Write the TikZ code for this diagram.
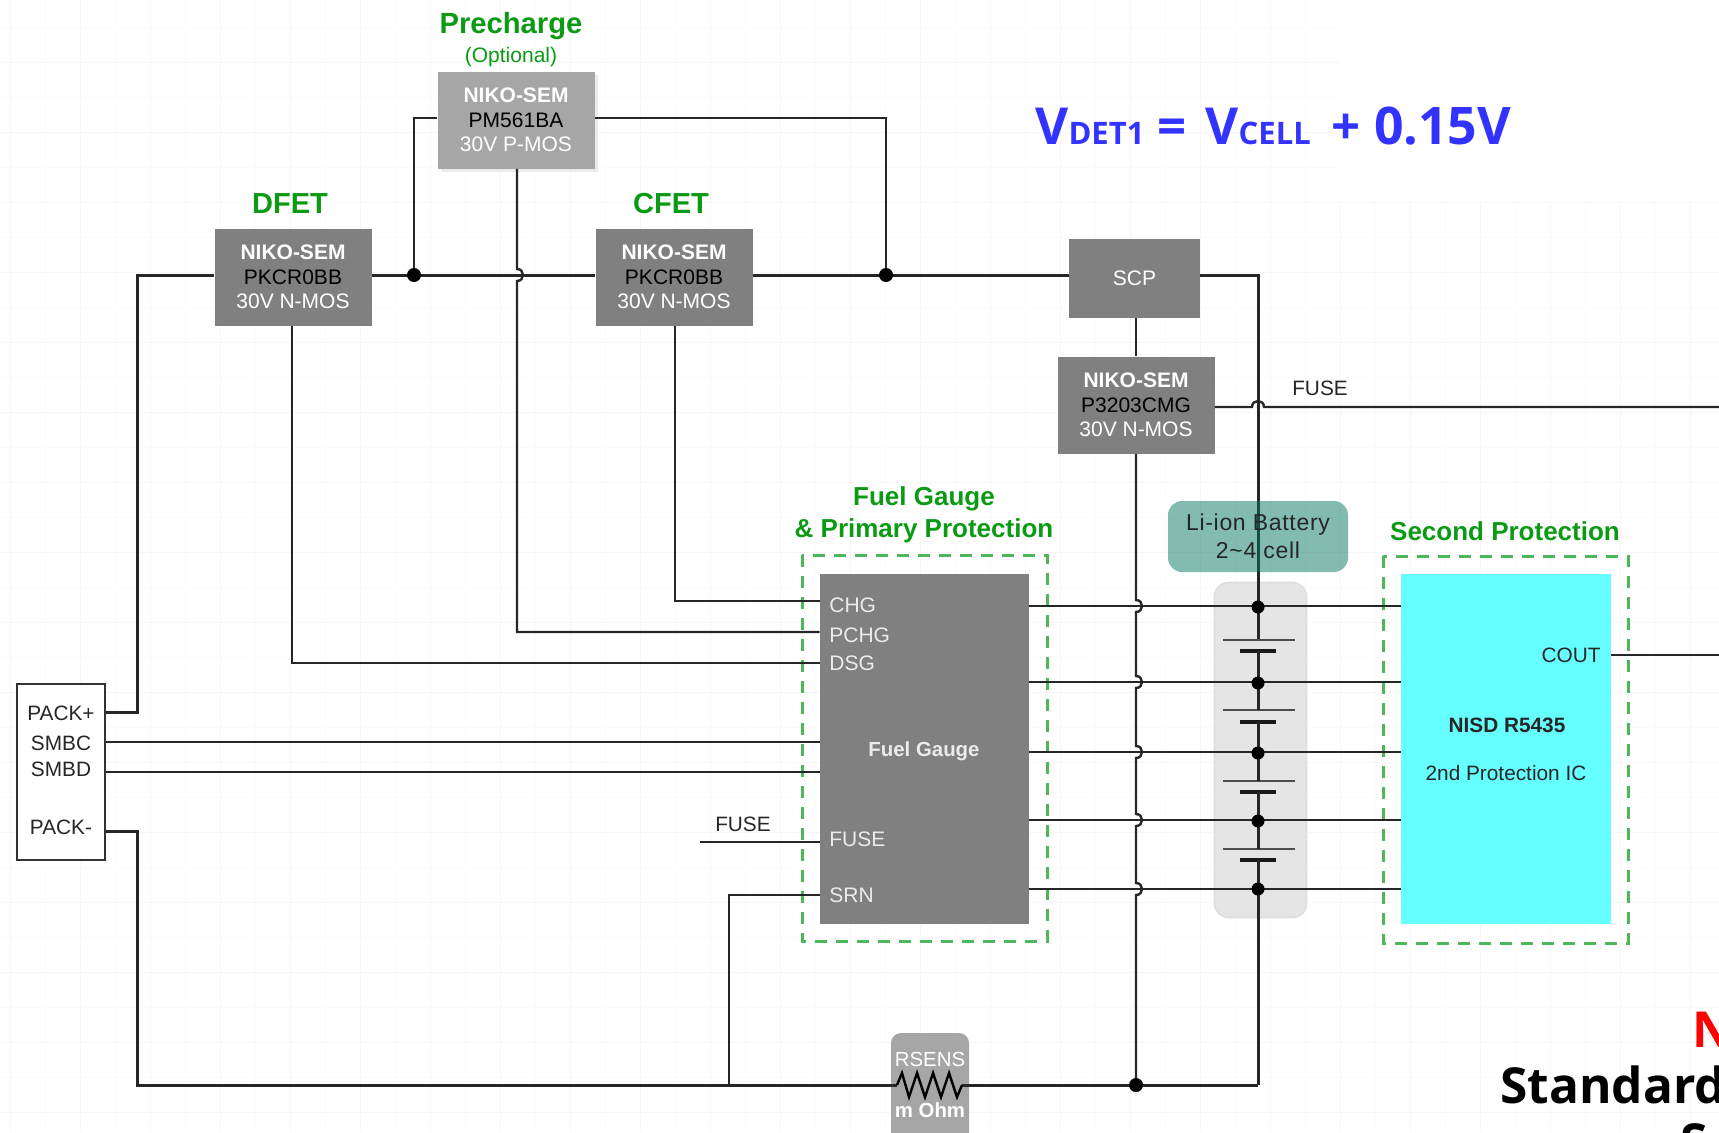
\documentclass[tikz,border=0pt]{standalone}
\usepackage{fontspec}
\setmainfont{Liberation Sans}
\newfontfamily\mathlike{Open Sans}
\usepackage{tikz}
\definecolor{fetgray}{HTML}{808080}
\definecolor{pregray}{HTML}{A6A6A6}
\definecolor{labelgreen}{HTML}{0A9A14}
\definecolor{dashgreen}{HTML}{4DB85A}
\definecolor{gridmajor}{HTML}{F7F7F7}
\definecolor{gridminor}{HTML}{FBFBFB}
\definecolor{icecyan}{HTML}{66FFFF}
\definecolor{cellteal}{HTML}{057961}
\definecolor{formulablue}{HTML}{3333FF}
\tikzset{
  wire/.style={line width=1.2pt, black!85},
  heavywire/.style={line width=1.5pt, black!85},
  fet/.style={rectangle, fill=fetgray, minimum width=78.5pt, minimum height=48.5pt, inner sep=0pt, align=center, font=\fontsize{10.5}{12}\selectfont, text=white},
  title/.style={text=labelgreen, font=\fontsize{13}{16}\bfseries\selectfont, align=center, inner sep=0pt},
  pin/.style={text=white!92!black, anchor=west, inner sep=0pt, font=\fontsize{10.5}{12}\selectfont},
  tag/.style={text=black!85, inner sep=0pt, font=\fontsize{10.4}{12}\selectfont},
  dot/.style={circle, fill=black, minimum size=7pt, inner sep=0pt},
  guard/.style={draw=dashgreen, line width=1.5pt, dash pattern=on 6pt off 4.5pt},
  cellplate/.style={line width=1.1pt, black!70},
  cellshort/.style={line width=2pt, black!90},
  note/.style={anchor=base west, inner sep=0pt, font=\mathlike\bfseries\fontsize{24.8}{30}\selectfont},
}
\begin{document}
\begin{tikzpicture}[x=.5pt, y=-.5pt]
\useasboundingbox (0,0) rectangle (1719,1132);
\clip (0,0) rectangle (1719,1132);
% grid
\foreach \x in {45,115,...,1719} \draw[gridminor, line width=.4pt] (\x,0) -- (\x,1132);
\foreach \y in {27,97,...,1132} \draw[gridminor, line width=.4pt] (0,\y) -- (1719,\y);
\foreach \x in {10,80,...,1719} \draw[gridmajor, line width=.5pt] (\x,0) -- (\x,1132);
\foreach \y in {62,132,...,1132} \draw[gridmajor, line width=.5pt] (0,\y) -- (1719,\y);
\fill[white] (1340,0) rectangle (1719,202);

% battery pack background
\node[rectangle, rounded corners=7pt, fill=black!10, draw=black!13, line width=.8pt, minimum width=46pt, minimum height=167.5pt, inner sep=0pt] (pack) at (1260.5,750) {};

% blocks
\node[fet] (dfet) at (293,277) {\textbf{NIKO-SEM}\\[.25pt]{\color{black}PKCR0BB}\\[.25pt]30V N-MOS};
\node[fet] (cfet) at (674,277) {\textbf{NIKO-SEM}\\[.25pt]{\color{black}PKCR0BB}\\[.25pt]30V N-MOS};
\node[fet, fill=black!8] at (519,123) {};
\node[fet, fill=pregray] (pfet) at (516,120) {\textbf{NIKO-SEM}\\[.25pt]{\color{black}PM561BA}\\[.25pt]30V P-MOS};
\node[fet, minimum width=65.5pt, minimum height=39.5pt] (scp) at (1134.5,278) {SCP};
\node[fet] (fuse) at (1136,405) {\textbf{NIKO-SEM}\\[.25pt]{\color{black}P3203CMG}\\[.25pt]30V N-MOS};
\node[rectangle, fill=fetgray, minimum width=104.5pt, minimum height=175pt, inner sep=0pt] (gauge) at (924.5,749) {};
\node[rectangle, fill=icecyan, minimum width=105pt, minimum height=175pt, inner sep=0pt] (second) at (1506,749) {};
\node[rectangle, draw=black!80, line width=1.1pt, fill=white, minimum width=44pt, minimum height=88pt, inner sep=0pt] (conn) at (61,772) {};
\node[rectangle, rounded corners=5pt, fill=pregray, minimum width=39pt, minimum height=60pt, inner sep=0pt] (rsens) at (930,1093) {};

% guard frames
\draw[guard] (802,555) rectangle (1047,941);
\draw[guard] (1383,556) rectangle (1628,943);

% named points
\coordinate (j1) at (414,275);
\coordinate (j2) at (886,275);
\coordinate (rail) at (1258,275);
\coordinate (gnd) at (1136,1085);
\coordinate (gndr) at (1258,1085);

% top rail
\draw[heavywire] (conn.east |- 0,712) -- (137,712) |- (dfet.west |- j1);
\draw[heavywire] (dfet.east |- j1) -- (cfet.west |- j1);
\draw[heavywire] (cfet.east |- j1) -- (scp.west |- j1);
\draw[heavywire] (scp.east |- j1) -- (rail) -- (1258,640);
\draw[wire] (j1) |- (pfet.west |- 0,118);
\draw[wire] (j2) |- (pfet.east |- 0,118);

% gate drives
\draw[wire] (pfet.south -| 517,0) -- (517,269) .. controls (525,269) and (525,281) .. (517,281) |- (gauge.west |- 0,632);
\draw[wire] (dfet.south -| 292,0) |- (gauge.west |- 0,663);
\draw[wire] (cfet.south -| 675,0) |- (gauge.west |- 0,601);
\draw[wire] (conn.east |- 0,742) -- (gauge.west |- 0,742);
\draw[wire] (conn.east |- 0,772) -- (gauge.west |- 0,772);
\coordinate (fusefree) at (700,842);
\draw[wire] (fusefree) -- (gauge.west |- fusefree);
\draw[wire] (gauge.west |- 0,895) -| (729,1085);

% cell taps
\foreach \y in {606,682,752,820,889}
  \draw[wire] (gauge.east |- 0,\y) -- (second.west |- 0,\y);

% fuse drive and cout
\draw[wire] (scp.south -| fuse.north) -- (fuse.north);
\draw[wire] (fuse.south) foreach \y in {606,682,752,820,889} { -- (1136,\y-6) .. controls (1144,\y-6) and (1144,\y+6) .. (1136,\y+6) } -- (gnd);
\coordinate (fuseout) at (1719,407);
\draw[wire] (fuse.east |- fuseout) -- (1252,407) .. controls (1252,399) and (1264,399) .. (1264,407) -- (fuseout);
\coordinate (coutend) at (1719,655);
\draw[wire] (second.east |- coutend) -- (coutend);

% cells
\foreach \t/\b in {640/651,710/722,781/792,849/860} {
  \draw[cellplate] (1223,\t) -- (1295,\t);
  \draw[cellshort] (1240,\b) -- (1276,\b);
}
\draw[heavywire] (1258,651) -- (1258,710);
\draw[heavywire] (1258,722) -- (1258,781);
\draw[heavywire] (1258,792) -- (1258,849);
\draw[heavywire] (1258,860) -- (gndr);
\foreach \y [count=\i] in {607,683,753,821,889} \node[dot, minimum size=6.5pt] (tap\i) at (1258,\y) {};

% return rail
\draw[heavywire] (conn.east |- 0,831) -- (137,831) |- (897,1085);
\draw[heavywire] (962,1085) -- (gnd) -- (gndr);
\draw[line width=1.2pt, black, line join=miter] (897,1085) -- (902,1073) -- (909,1097) -- (917,1073) -- (925,1097) -- (933,1073) -- (941,1097) -- (949,1073) -- (957,1097) -- (962,1085);

\node[dot] (dotone) at (j1) {};
\node[dot] (dottwo) at (j2) {};
\node[dot] (dotgnd) at (gnd) {};

% battery label, see-through
\node[rectangle, rounded corners=7pt, fill=cellteal, fill opacity=.5, text opacity=1, minimum width=90pt, minimum height=35.5pt, inner sep=0pt, align=center, text=black!85, font=\addfontfeature{LetterSpace=3}\fontsize{11.5}{14.2}\selectfont] (cells) at (1258,536.5) {Li-ion Battery\\2\textasciitilde4 cell};

% pins
\node[pin] at (829,605) {CHG};
\node[pin] at (829,635) {PCHG};
\node[pin] at (829,663) {DSG};
\node[pin] at (829,839) {FUSE};
\node[pin] at (829,895) {SRN};
\node[text=white!92!black, inner sep=0pt, font=\fontsize{10.2}{12}\bfseries\selectfont] at (924,751) {Fuel Gauge};
\node[tag] at (1571,655) {COUT};
\node[tag, font=\fontsize{10.4}{12}\bfseries\selectfont] at (1507,725) {NISD R5435};
\node[tag] at (1506,773) {2nd Protection IC};
\node[tag] at (1320,388) {FUSE};
\node[tag] at (743,824) {FUSE};
\node[tag] at (61,713) {PACK+};
\node[tag] at (61,743) {SMBC};
\node[tag] at (61,769) {SMBD};
\node[tag] at (61,827) {PACK-};
\node[text=white, inner sep=0pt, font=\fontsize{10.2}{12}\selectfont] at (930,1059) {RSENS};
\node[text=white, inner sep=0pt, font=\fontsize{10.2}{12}\bfseries\selectfont] at (930,1110) {m Ohm};

% titles
\node[title, font=\fontsize{14.6}{16}\bfseries\selectfont] at (511,26) {Precharge};
\node[title, font=\fontsize{10.5}{12}\selectfont] at (511,57) {(Optional)};
\node[title, font=\fontsize{14.5}{16}\bfseries\selectfont] at (290,204) {DFET};
\node[title, font=\fontsize{14.5}{16}\bfseries\selectfont] at (671,204) {CFET};
\node[title] at (924,515) {Fuel Gauge\\\& Primary Protection};
\node[title] at (1505,531) {Second Protection};

% formula and the cut-off note
\node[anchor=base west, inner sep=0pt, text=formulablue, font=\mathlike\bfseries\fontsize{25.5}{30}\selectfont] at (1035,144) {V{\fontsize{15.5}{18}\selectfont DET1} =\hspace{2.7pt} V{\fontsize{15.5}{18}\selectfont CELL}\hspace{3.8pt} + {\fontsize{25.9}{30}\selectfont 0.15V}};
\node[note, text=red] at (1692,1047) {N};
\node[note] at (1500,1103) {Standard};
\node[note] at (1680,1159) {S};
\end{tikzpicture}
\end{document}
